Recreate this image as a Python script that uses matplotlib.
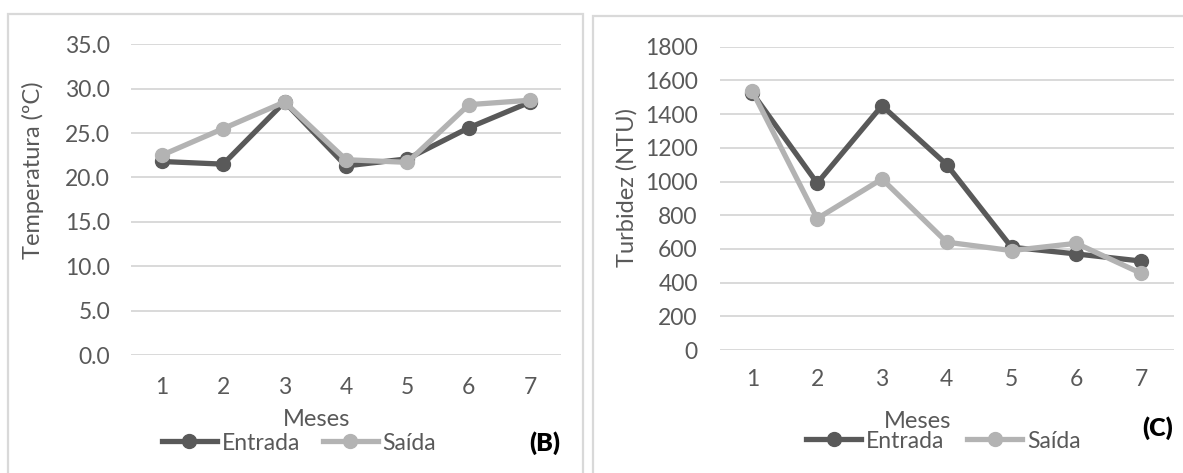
import matplotlib
matplotlib.use("Agg")
import matplotlib.pyplot as plt
from matplotlib.patches import Rectangle
from matplotlib.lines import Line2D

plt.rcParams['font.family'] = ['Lato', 'DejaVu Sans']

meses = [1, 2, 3, 4, 5, 6, 7]
temp_entrada = [21.8, 21.5, 28.5, 21.3, 22.1, 25.6, 28.5]
temp_saida = [22.5, 25.5, 28.5, 22.0, 21.7, 28.2, 28.7]
turb_entrada = [1525, 990, 1450, 1100, 610, 570, 528]
turb_saida = [1535, 780, 1015, 640, 590, 633, 455]
temp_ticks = [0, 5, 10, 15, 20, 25, 30, 35]
turb_ticks = [0, 200, 400, 600, 800, 1000, 1200, 1400, 1600, 1800]

W, H = 1183, 473
C_ENT = '#595959'
C_SAI = '#b3b3b3'
C_TXT = '#595959'
C_GRID = '#d9d9d9'
FS = 16.5
LW = 3.8
MS = 10

fig = plt.figure(figsize=(W / 100, H / 100), dpi=100)

def fx(px):
    return px / W

def fy(py):
    return 1 - py / H

# panel borders
fig.patches.append(Rectangle((fx(8), fy(480)), fx(583) - fx(8), fy(14) - fy(480),
                             transform=fig.transFigure, fill=False, ec=C_GRID, lw=1.6))
fig.patches.append(Rectangle((fx(593), fy(480)), fx(1195) - fx(593), fy(15.5) - fy(480),
                             transform=fig.transFigure, fill=False, ec=C_GRID, lw=1.6))


def make_axes(rect, ent, sai, ticks, fmt, ylim, xpad, ypad):
    ax = fig.add_axes(rect)
    ax.set_xlim(0.5, 7.5)
    ax.set_ylim(*ylim)
    ax.set_yticks(ticks)
    ax.set_yticklabels([fmt(t) for t in ticks])
    ax.set_xticks(meses)
    ax.set_xticklabels([str(m) for m in meses])
    for s in ax.spines.values():
        s.set_visible(False)
    ax.grid(axis='y', color=C_GRID, lw=1.4)
    ax.set_axisbelow(True)
    ax.tick_params(length=0, labelsize=FS, labelcolor=C_TXT)
    ax.tick_params(axis='x', pad=xpad)
    ax.tick_params(axis='y', pad=ypad)
    ax.plot(meses, ent, color=C_ENT, lw=LW, marker='o', ms=MS, zorder=3,
            solid_capstyle='round')
    ax.plot(meses, sai, color=C_SAI, lw=LW, marker='o', ms=MS, zorder=4,
            solid_capstyle='round')
    ax.set_facecolor('none')
    return ax

# left: temperature
make_axes([fx(131), fy(355), fx(561) - fx(131), fy(44.3) - fy(355)],
          temp_entrada, temp_saida, temp_ticks, lambda t: f"{t:.1f}", (0, 35), 16, 15)
# right: turbidity
make_axes([fx(720), fy(350), fx(1173.5) - fx(720), fy(46.7) - fy(350)],
          turb_entrada, turb_saida, turb_ticks, lambda t: f"{t}", (0, 1800), 14, 16)

fig.text(fx(33), fy(170), "Temperatura (ºC)", rotation=90, ha='center', va='center',
         fontsize=17, color=C_TXT)
fig.text(fx(627), fy(187), "Turbidez (NTU)", rotation=90, ha='center', va='center',
         fontsize=17, color=C_TXT)
fig.text(fx(317), fy(420), "Meses", ha='center', va='center', fontsize=17, color=C_TXT)
fig.text(fx(918), fy(421.5), "Meses", ha='center', va='center', fontsize=17, color=C_TXT)
fig.text(fx(545), fy(443), "(B)", ha='center', va='center', fontsize=18,
         fontweight='heavy', color='black')
fig.text(fx(1158), fy(428), "(C)", ha='center', va='center', fontsize=18,
         fontweight='heavy', color='black')

handles = [Line2D([], [], color=C_ENT, lw=LW, marker='o', ms=MS),
           Line2D([], [], color=C_SAI, lw=LW, marker='o', ms=MS)]
labels = ["Entrada", "Saída"]
for cx, cy in [(299, 443), (943.5, 441)]:
    leg = fig.legend(handles, labels, loc='center', bbox_to_anchor=(fx(cx), fy(cy)),
                     ncol=2, frameon=False, fontsize=FS, handlelength=2.4,
                     handletextpad=0.2, columnspacing=1.0, borderpad=0,
                     borderaxespad=0)
    for t in leg.get_texts():
        t.set_color(C_TXT)

fig.savefig("out.png", dpi=100)
